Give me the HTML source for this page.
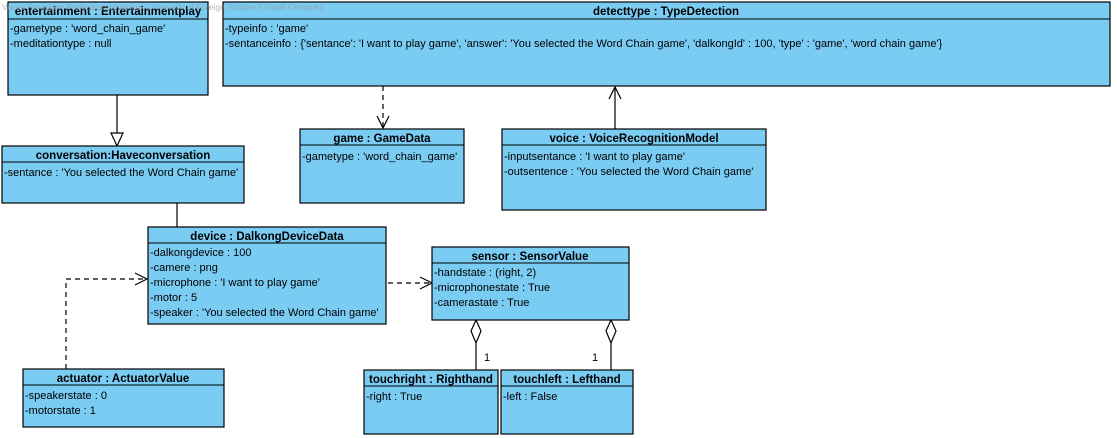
<!DOCTYPE html>
<html><head><meta charset="utf-8"><style>
body{margin:0;background:#fff;}
svg{display:block;font-family:"Liberation Sans",Arial,sans-serif;}
.b{fill:#7accf3;stroke:#000;stroke-width:1.2}
.h{font-weight:bold;font-size:11.5px;text-anchor:middle}
.a{font-size:11px}
</style></head><body>
<svg width="1117" height="438" viewBox="0 0 1117 438" xmlns="http://www.w3.org/2000/svg">
<g stroke="#000" fill="none" stroke-width="1.2">
<line x1="117" y1="95" x2="117" y2="133"/>
<polygon points="111,133 123,133 117,146" fill="#fff"/>
<line x1="383" y1="86" x2="383" y2="128" stroke-dasharray="5,4"/>
<polyline points="377,116 383,128 389,116"/>
<line x1="615" y1="129" x2="615" y2="87"/>
<polyline points="609,99 615,87 621,99"/>
<line x1="177" y1="203" x2="177" y2="227"/>
<polyline points="66,369 66,279 146,279" stroke-dasharray="5,4"/>
<polyline points="135,273 147,279 135,285"/>
<line x1="388" y1="283" x2="431" y2="283" stroke-dasharray="5,4"/>
<polyline points="420,277 432,283 420,289"/>
<polygon points="476,320 481,331 476,343 471,331" fill="#fff"/>
<line x1="476" y1="343" x2="476" y2="370"/>
<polygon points="611,320 616,331 611,343 606,331" fill="#fff"/>
<line x1="611" y1="343" x2="611" y2="370"/>
</g>
<text x="484" y="361" class="a">1</text>
<text x="592" y="361" class="a">1</text>

<rect class="b" x="8" y="2" width="200" height="93"/><line x1="8" y1="19" x2="208" y2="19" stroke="#000"/>
<text class="h" x="108" y="15">entertainment : Entertainmentplay</text>
<text class="a" x="10" y="32">-gametype : 'word_chain_game'</text>
<text class="a" x="10" y="47">-meditationtype : null</text>

<rect class="b" x="223" y="2" width="887" height="84"/><line x1="223" y1="19" x2="1110" y2="19" stroke="#000"/>
<text class="h" x="666" y="15">detecttype : TypeDetection</text>
<text class="a" x="225" y="32">-typeinfo : 'game'</text>
<text class="a" x="225" y="47">-sentanceinfo : {'sentance': 'I want to play game', 'answer': 'You selected the Word Chain game', 'dalkongId' : 100, 'type' : 'game', 'word chain game'}</text>

<text x="2" y="10" font-size="8.5" fill="#999" opacity="0.7">Visual Paradigm Professional(Hankuk University of Foreign Studies (Global Campus))</text>

<rect class="b" x="2" y="146" width="242" height="57"/><line x1="2" y1="162" x2="244" y2="162" stroke="#000"/>
<text class="h" x="123" y="159">conversation:Haveconversation</text>
<text class="a" x="4" y="176">-sentance : 'You selected the Word Chain game'</text>

<rect class="b" x="300" y="129" width="164" height="74"/><line x1="300" y1="145" x2="464" y2="145" stroke="#000"/>
<text class="h" x="382" y="142">game : GameData</text>
<text class="a" x="302" y="160">-gametype : 'word_chain_game'</text>

<rect class="b" x="502" y="129" width="264" height="81"/><line x1="502" y1="145" x2="766" y2="145" stroke="#000"/>
<text class="h" x="634" y="142">voice : VoiceRecognitionModel</text>
<text class="a" x="504" y="160">-inputsentance : 'I want to play game'</text>
<text class="a" x="504" y="175">-outsentence : 'You selected the Word Chain game'</text>

<rect class="b" x="148" y="227" width="238" height="97"/><line x1="148" y1="243" x2="386" y2="243" stroke="#000"/>
<text class="h" x="267" y="240">device : DalkongDeviceData</text>
<text class="a" x="150" y="256">-dalkongdevice : 100</text>
<text class="a" x="150" y="271">-camere : png</text>
<text class="a" x="150" y="286">-microphone : 'I want to play game'</text>
<text class="a" x="150" y="301">-motor : 5</text>
<text class="a" x="150" y="316">-speaker : 'You selected the Word Chain game'</text>

<rect class="b" x="432" y="247" width="197" height="73"/><line x1="432" y1="263" x2="629" y2="263" stroke="#000"/>
<text class="h" x="530" y="260">sensor : SensorValue</text>
<text class="a" x="434" y="276">-handstate : (right, 2)</text>
<text class="a" x="434" y="291">-microphonestate : True</text>
<text class="a" x="434" y="306">-camerastate : True</text>

<rect class="b" x="23" y="369" width="201" height="58"/><line x1="23" y1="385" x2="224" y2="385" stroke="#000"/>
<text class="h" x="123" y="382">actuator : ActuatorValue</text>
<text class="a" x="25" y="399">-speakerstate : 0</text>
<text class="a" x="25" y="414">-motorstate : 1</text>

<rect class="b" x="364" y="370" width="134" height="64"/><line x1="364" y1="386" x2="498" y2="386" stroke="#000"/>
<text class="h" x="431" y="383">touchright : Righthand</text>
<text class="a" x="366" y="400">-right : True</text>

<rect class="b" x="501" y="370" width="132" height="64"/><line x1="501" y1="386" x2="633" y2="386" stroke="#000"/>
<text class="h" x="567" y="383">touchleft : Lefthand</text>
<text class="a" x="503" y="400">-left : False</text>
</svg>
</body></html>
